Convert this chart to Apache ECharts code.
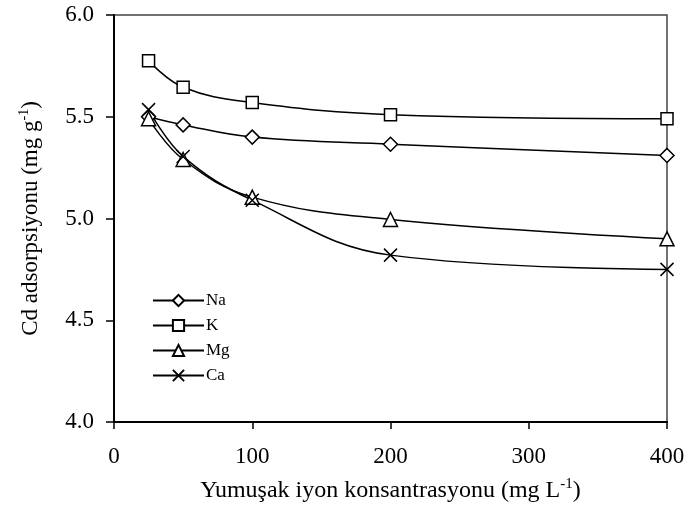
<!DOCTYPE html>
<html>
<head>
<meta charset="utf-8">
<script src="https://cdn.jsdelivr.net/npm/echarts@6/dist/echarts.min.js"></script>
<style>
  html, body { margin: 0; padding: 0; background: #fff; }
  #chart { width: 689px; height: 510px; }
</style>
</head>
<body>
<div id="chart"></div>
<script>
// konsantrasyon (mg L-1)
const concentrations = [25, 50, 100, 200, 400];
// Cd adsorpsiyonu (mg g-1)
const naValues = [5.50, 5.46, 5.40, 5.365, 5.31];
const kValues = [5.775, 5.645, 5.57, 5.51, 5.49];
const mgValues = [5.49, 5.29, 5.105, 4.995, 4.90];
const caValues = [5.535, 5.305, 5.09, 4.82, 4.75];
const seriesNames = ['Na', 'K', 'Mg', 'Ca'];

const font = '"Liberation Serif", "Times New Roman", serif';
const crossPath = 'path://M0,0L10,10M10,0L0,10';

function pairs(ys) {
  return concentrations.map((x, i) => [x, ys[i]]);
}

function makeSeries(name, ys, symbol, size) {
  return {
    name: name,
    type: 'line',
    smooth: 0.4,
    data: pairs(ys),
    symbol: symbol,
    symbolSize: size,
    showSymbol: true,
    lineStyle: { color: '#000', width: 1.5 },
    itemStyle: { color: '#fff', borderColor: '#000', borderWidth: 1.5 },
    emphasis: { disabled: true },
    z: 3
  };
}

const chart = echarts.init(document.getElementById('chart'));
const option = {
  animation: false,
  backgroundColor: '#fff',
  textStyle: { fontFamily: font, color: '#000' },
  grid: {
    left: 114, right: 22, top: 15, bottom: 88,
    show: true, borderColor: '#444', borderWidth: 1.5, backgroundColor: 'transparent'
  },
  legend: {
    orient: 'vertical',
    left: 147,
    top: 287,
    itemWidth: 51,
    itemHeight: 14,
    itemGap: 8,
    data: seriesNames,
    textStyle: { fontFamily: font, fontSize: 17, color: '#000', padding: [0, 0, 0, -3] }
  },
  xAxis: {
    type: 'value',
    min: 0, max: 400, interval: 100,
    name: 'Yumuşak iyon konsantrasyonu (mg L{sup|-1})',
    nameLocation: 'middle',
    nameGap: 55,
    nameTextStyle: {
      fontFamily: font, fontSize: 24, color: '#000',
      rich: { sup: { fontFamily: font, fontSize: 15, verticalAlign: 'top', padding: [0, 0, 13, 0] } }
    },
    axisLine: { lineStyle: { color: '#000', width: 2 } },
    axisTick: { show: true, inside: false, length: 7, lineStyle: { color: '#000', width: 1.5 } },
    axisLabel: { fontFamily: font, fontSize: 23, color: '#000', margin: 23 },
    splitLine: { show: false }
  },
  yAxis: {
    type: 'value',
    min: 4, max: 6, interval: 0.5,
    name: 'Cd adsorpsiyonu (mg g{sup|-1})',
    nameLocation: 'middle',
    nameGap: 70,
    nameRotate: 90,
    nameTextStyle: {
      fontFamily: font, fontSize: 23, color: '#000',
      rich: { sup: { fontFamily: font, fontSize: 14, padding: [0, 0, 13, 0] } }
    },
    axisLine: { show: true, lineStyle: { color: '#000', width: 2 } },
    axisTick: { show: true, inside: false, length: 8, lineStyle: { color: '#000', width: 1.5 } },
    axisLabel: {
      fontFamily: font, fontSize: 23, color: '#000', margin: 20,
      formatter: v => v.toFixed(1)
    },
    splitLine: { show: false }
  },
  series: [
    makeSeries('Na', naValues, 'diamond', 14),
    makeSeries('K', kValues, 'rect', 12),
    makeSeries('Mg', mgValues, 'triangle', 14),
    makeSeries('Ca', caValues, crossPath, 13)
  ]
};
chart.setOption(option);
</script>
</body>
</html>
